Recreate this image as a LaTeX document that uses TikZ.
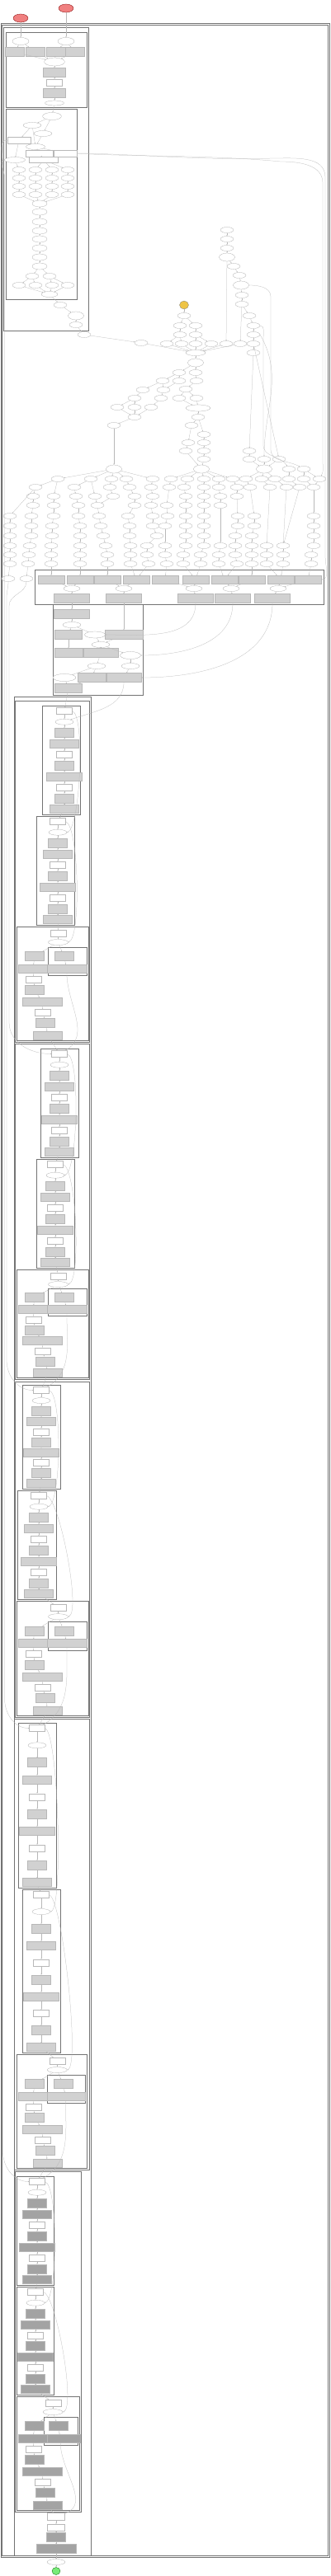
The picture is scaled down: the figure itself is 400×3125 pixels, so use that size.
\documentclass[tikz,border=0pt]{standalone}
\usetikzlibrary{shapes.geometric,arrows.meta}
\definecolor{lred}{RGB}{240,128,128}
\definecolor{lgreen}{RGB}{120,235,120}
\definecolor{lyel}{RGB}{238,196,70}
\def\gfill{black!18}
\newcommand{\chain}[1]{%
  \global\let\chprev\empty
  \foreach \cc in {#1}{%
    \ifx\chprev\empty\else\draw[ed] (\chprev) -- (\cc);\fi
    \global\let\chprev\cc
  }%
}
\newcommand{\NarrowBox}[6]{%
  \draw[cl] (#2,#3) rectangle (#4,#5);
  \pgfmathsetmacro{\nbs}{(#5-#3-13)/9}%
  \node[wb] (#1-1) at (#6,{#3+6.5}) {};
  \node[el,minimum width=22pt] (#1-2) at (#6,{#3+6.5+\nbs}) {};
  \node[gs] (#1-3) at (#6,{#3+6.5+2*\nbs}) {};
  \node[gw] (#1-4) at (#6,{#3+6.5+3*\nbs}) {};
  \node[wb] (#1-5) at (#6,{#3+6.5+4*\nbs}) {};
  \node[gs] (#1-6) at (#6,{#3+6.5+5*\nbs}) {};
  \node[gw,minimum width=43pt] (#1-7) at (#6,{#3+6.5+6*\nbs}) {};
  \node[wb] (#1-8) at (#6,{#3+6.5+7*\nbs}) {};
  \node[gs] (#1-9) at (#6,{#3+6.5+8*\nbs}) {};
  \node[gw] (#1-10) at (#6,{#3+6.5+9*\nbs}) {};
  \chain{#1-1,#1-2,#1-3,#1-4,#1-5,#1-6,#1-7,#1-8,#1-9,#1-10}
}
\newcommand{\WideBox}[5]{%
  \pgfmathsetmacro{\wW}{#4-#2}\pgfmathsetmacro{\wH}{#5-#3}%
  \draw[cl] (#2,#3) rectangle (#4,#5);
  \draw[cl] ({#2+0.44*\wW},{#3+0.18*\wH}) rectangle ({#4-2},{#3+0.43*\wH});
  \node[wb] (#1-1) at ({#2+0.58*\wW},{#3+0.058*\wH}) {};
  \node[el,minimum width=24pt] (#1-2) at ({#2+0.58*\wW},{#3+0.138*\wH}) {};
  \node[gs] (#1-s1) at ({#2+0.66*\wW},{#3+0.26*\wH}) {};
  \node[gw,minimum width=48pt] (#1-s2) at ({#2+0.70*\wW},{#3+0.37*\wH}) {};
  \node[gs] (#1-3) at ({#2+22},{#3+0.26*\wH}) {};
  \node[gw] (#1-4) at ({#2+20},{#3+0.37*\wH}) {};
  \node[wb] (#1-5) at ({#2+21},{#3+0.464*\wH}) {};
  \node[gs] (#1-6) at ({#2+22},{#3+0.558*\wH}) {};
  \node[gw,minimum width=48pt] (#1-7) at ({#2+31},{#3+0.66*\wH}) {};
  \node[wb] (#1-8) at ({#2+32},{#3+0.754*\wH}) {};
  \node[gs] (#1-9) at ({#2+35},{#3+0.848*\wH}) {};
  \node[gw] (#1-10) at ({#2+38},{#3+0.957*\wH}) {};
  \chain{#1-1,#1-2,#1-3,#1-4,#1-5,#1-6,#1-7,#1-8,#1-9,#1-10}
  \draw[ed] (#1-2) -- (#1-s1);
  \draw[ed] (#1-s1) -- (#1-s2);
}
\begin{document}
\begin{tikzpicture}[x=1pt,y=-1pt,
  el/.style={ellipse,draw=black!40,line width=0.2pt,fill=white,inner sep=0pt,minimum width=16pt,minimum height=7pt},
  elb/.style={el,minimum width=19pt,minimum height=10pt},
  wb/.style={rectangle,draw=black!28,line width=0.15pt,fill=white,inner sep=0pt,minimum width=19pt,minimum height=8pt},
  gbase/.style={rectangle,draw=black!28,line width=0.2pt,fill=\gfill,inner sep=0pt},
  gs/.style={gbase,minimum width=23pt,minimum height=11pt},
  gw/.style={gbase,minimum width=35pt,minimum height=10pt},
  cl/.style={draw=black!55,line width=0.55pt},
  ed/.style={draw=black!28,line width=0.25pt,-{Stealth[length=1.5pt,width=1.2pt]}},
  redn/.style={ellipse,draw=red!50!black,line width=0.3pt,fill=lred,minimum width=18pt,minimum height=10pt,inner sep=0pt}
]
\useasboundingbox (0,0) rectangle (400,3125);
\fill[white] (0,0) rectangle (400,3125);

% outer clusters
\draw[cl] (1,28) rectangle (399,3102);
\draw[cl] (2.5,30) rectangle (397.5,3100);
\draw[cl] (4,33) rectangle (107,401);
\draw[cl] (7,39) rectangle (105,130);
\draw[cl] (7,132) rectangle (93,363);
\draw[cl] (42,691) rectangle (392,733);
\draw[cl] (64,733) rectangle (173,843);
\draw[cl] (17,845) rectangle (110,3100);

% inputs
\node[redn] (rd1) at (80,10) {};
\node[redn] (rd2) at (25,22) {};

% cluster C1a
\node[el,minimum width=20pt,minimum height=9pt] (te1) at (25,50) {};
\node[el,minimum width=20pt,minimum height=9pt] (te2) at (80,50) {};
\foreach \n/\x in {tg1/18,tg2/43,tg3/68,tg4/91} \node[gs] (\n) at (\x,63) {};
\node[elb,minimum width=25pt] (te3) at (66,75) {};
\node[gs,minimum width=27pt] (tg5) at (66,88) {};
\node[wb] (tw1) at (66,100) {};
\node[gs,minimum width=27pt] (tg6) at (66,113) {};
\node[el,minimum width=23pt,minimum height=6pt] (te4) at (66,125) {};
\foreach \a/\b in {rd2/te1,rd1/te2,te1/tg1,te1/tg2,te2/tg3,te2/tg4,tg1/te3,tg2/te3,tg3/te3,tg4/te3}{\draw[ed] (\a) -- (\b);}
\chain{te3,tg5,tw1,tg6,te4}

% cluster C1b
\node[el,minimum width=23pt,minimum height=9pt] (tf1) at (63,141) {};
\node[el,minimum width=22pt] (tf2) at (39,152) {};
\node[el,minimum width=22pt] (tf3) at (52,162) {};
\node[wb,minimum width=28pt] (tf4) at (23,170) {};
\node[el,minimum width=23pt] (tf5) at (43,178) {};
\node[wb,minimum width=33pt] (tf6) at (48,186) {};
\node[wb,minimum width=28pt] (tf7) at (79,186) {};
\node[el,minimum width=25pt] (tf8) at (18,194) {};
\node[wb,minimum width=35pt,minimum height=7pt] (tf9) at (53,194) {};
\foreach \c/\x in {1/23,2/43,3/63,4/82}{
  \foreach \r/\y in {1/206,2/216,3/226,4/236}{
    \node[el] (th\c\r) at (\x,\y) {};
  }
}
\foreach \n/\y in {ti1/247,ti2/257,ti3/269,ti4/280,ti5/290,ti6/301,ti7/312,ti8/323} \node[el,minimum width=18pt,minimum height=8pt] (\n) at (48,\y) {};
\node[el] (tj1) at (39,335) {};
\node[el] (tj2) at (60,335) {};
\foreach \n/\x in {tk1/23,tk2/43,tk3/63,tk4/82} \node[el] (\n) at (\x,346) {};
\node[el,minimum width=20pt] (tm1) at (60,357) {};
\node[el] (to1) at (73,370) {};
\node[elb] (to2) at (92,383) {};
\node[el] (to3) at (92,394) {};
\node[el] (to4) at (102,406) {};
\foreach \a/\b in {te4/tf1,tf1/tf2,tf1/tf3,tf2/tf4,tf2/tf5,tf3/tf5,tf5/tf6,tf5/tf7,tf4/tf8,tf6/tf9,tf8/th11,tf9/th21,tf9/th31,tf9/th41,th14/ti1,th24/ti1,th34/ti1,th44/ti1,ti8/tj1,ti8/tj2,tj1/tk1,tj1/tk2,tj2/tk3,tj2/tk4,tk1/tm1,tk2/tm1,tk3/tm1,tk4/tm1}{\draw[ed] (\a) -- (\b);}
\chain{th11,th12,th13,th14}
\chain{th21,th22,th23,th24}
\chain{th31,th32,th33,th34}
\chain{th41,th42,th43,th44}
\chain{ti1,ti2,ti3,ti4,ti5,ti6,ti7,ti8}
\chain{tm1,to1,to2,to3,to4}

% middle graph, upper part
\foreach \n/\x/\y in {r1/275/279,r2/275/290,r3/275/301,r5/283/323,r6/290/334,r8/293/358,r9/293/369,r10/302/383,r11/307/395,r12/307/406,r13/307/417,r14/307/428,
  a1/223/383,a2/218/395,a3/237/395,a4/218/406,a5/237/406,
  b0/171/416,b1/202/417,b2/220/417,b3/237/417,b4/256/417,b5/274/417,b6/291/417,
  c3/217/452,c4/237/452,d1/197/462,d2/217/462,d3/238/462,
  e1/173/473,e2/198/473,e3/225/472,e4/163/483,e5/195/483,e6/217/483,e7/238/483,
  u1/142/494,u2/163/494,u3/183/494,i1/163/506,i2/240/506,j1/138/516,j2/232/516,j3/247/527,
  k1/228/537,k2/247/537,k3/225/547,k4/247/547,k5/302/547,k6/247/557,k7/302/557,k8/320/557,k9/338/557,
  m4/350/569,m5/368/569}
  \node[el] (\n) at (\x,\y) {};
\foreach \n/\x/\y in {r4/275/312,r7/292/346,c2/237/440,m1/138/569,m2/244/569,m3/320/569}
  \node[elb] (\n) at (\x,\y) {};
\node[el,minimum width=24pt] (c1) at (237,428) {};
\node[el,minimum width=30pt,minimum height=8pt] (u4) at (240,495) {};
\node[ellipse,draw=black!50,line width=0.3pt,fill=lyel,minimum width=11pt,minimum height=10pt,inner sep=0pt] (y0) at (223,370) {};

\chain{r1,r2,r3,r4,r5,r6,r7,r8,r9,r10,r11,r12,r13,r14}
\foreach \a/\b in {y0/a1,a1/a2,a1/a3,a2/a4,a3/a5,a4/b1,a4/b2,a5/b3,a5/b4,r4/b5,r9/b6,to4/b0,
  b0/c1,b1/c1,b2/c1,b3/c1,b4/c1,b5/c1,b6/c1,c1/c2,c2/c3,c2/c4,c3/d1,c3/d2,c4/d3,
  d1/e1,d1/e2,d2/e2,d3/e3,e1/e4,e2/e5,e3/e6,e3/e7,e4/u1,e4/u2,e5/u3,e6/u4,e7/u4,
  u1/i1,u2/i1,u3/i1,i1/j1,j1/m1,u4/i2,i2/j2,i2/j3,j2/k1,j3/k2,k1/k3,k2/k4,k4/k6,k3/m2,k6/m2,
  k5/k7,k7/m3,k8/m3,k9/m3,r14/k5,r13/k9}{\draw[ed] (\a) -- (\b);}
\draw[ed] (r12.east) to[out=-60,in=90] (k8);
\draw[ed] (r11.east) to[out=0,in=90] (319,410) -- (319,540) to[out=-90,in=120] (m4);
\draw[ed] (r7.east) to[out=0,in=90] (328,360) -- (328,545) to[out=-90,in=150] (m5);

% middle graph, lower part
\foreach \n/\x/\y in {
 qa1/153/581,qb1/185/581,qc1/207/581,qd1/227/581,qe1/247/581,qf1/265/581,qg1/282/581,qh1/298/581,qi1/317/581,qj1/333/581,qk1/350/581,ql1/368/581,qm1/387/581,z21/70/581,z41/110/581,z51/135/581,
 qa2/157/591,qb2/183/591,qc2/205/591,qd2/223/591,qe2/247/591,qf2/265/591,qg2/287/591,qh2/303/591,qi2/327/591,qj2/347/591,qk2/363/591,qm2/380/591,z12/43/591,z32/90/591,z52/133/591,
 qa3/163/602,qb3/185/602,qd3/225/602,qe3/247/602,qf3/267/602,qg3/287/602,z13/40/602,z23/65/602,z33/92/602,z43/115/602,z53/137/602,
 qa4/163/613,qb4/183/613,qc4/202/613,qd4/225/613,qe4/247/613,qf4/267/613,z14/40/613,z24/65/613,z34/95/613,z44/118/613,
 qa5/155/626,qb5/185/626,qc5/203/626,qd5/225/626,qe5/247/626,qg5/288/626,qh5/308/626,qm5/380/626,z05/12/626,z15/38/626,z25/65/626,z35/95/626,z45/120/626,
 qa6/157/638,qb6/185/638,qc6/200/638,qd6/225/638,qe6/247/638,qg6/288/638,qh6/308/638,qm6/380/638,z06/12/638,z16/38/638,z26/63/638,z36/97/638,z46/122/638,
 qa7/157/650,qb7/190/650,qd7/225/650,qe7/247/650,qg7/285/650,qh7/305/650,qm7/380/650,z07/12/650,z17/38/650,z27/63/650,z37/97/650,z47/125/650,
 qa8/158/662,qb8/178/662,qc8/200/662,qd8/225/662,qe8/247/662,qf8/267/662,qg8/285/662,qh8/305/662,qi8/323/662,qj8/343/662,qm8/380/662,z08/12/662,z18/36/662,z28/62/662,z38/97/662,z48/128/662,
 qa9/158/673,qb9/178/673,qc9/200/673,qd9/222/673,qe9/243/673,qf9/265/673,qg9/285/673,qh9/305/673,qi9/323/673,qj9/343/673,qm9/377/673,z09/12/673,z19/35/673,z29/62/673,z39/97/673,z49/130/673,
 qa10/158/684,qb10/180/684,qc10/202/684,qd10/222/684,qe10/243/684,qf10/265/684,qg10/287/684,qh10/305/684,qi10/323/684,qj10/343/684,qm10/377/684,z010/12/684,z110/34/684,z210/62/684,z310/97/684,z410/130/684,
 z011/10/702,z111/32/702}
 \node[el] (\n) at (\x,\y) {};

\chain{qa1,qa2,qa3,qa4,qa5,qa6,qa7,qa8,qa9,qa10}
\chain{qb1,qb2,qb3,qb4,qb5,qb6,qb7,qb8,qb9,qb10}
\chain{qc1,qc2,qc4,qc5,qc6,qc8,qc9,qc10}
\chain{qd1,qd2,qd3,qd4,qd5,qd6,qd7,qd8,qd9,qd10}
\chain{qe1,qe2,qe3,qe4,qe5,qe6,qe7,qe8,qe9,qe10}
\chain{qf1,qf2,qf3,qf4,qf8,qf9,qf10}
\chain{qg1,qg2,qg3,qg5,qg6,qg7,qg8,qg9,qg10}
\chain{qh1,qh2,qh5,qh6,qh7,qh8,qh9,qh10}
\chain{qi1,qi2,qi8,qi9,qi10}
\chain{qj1,qj2,qj8,qj9,qj10}
\chain{qm1,qm2,qm5,qm6,qm7,qm8,qm9,qm10}
\chain{z05,z06,z07,z08,z09,z010,z011}
\chain{z12,z13,z14,z15,z16,z17,z18,z19,z110,z111}
\chain{z21,z23,z24,z25,z26,z27,z28,z29,z210}
\chain{z32,z33,z34,z35,z36,z37,z38,z39,z310}
\chain{z41,z43,z44,z45,z46,z47,z48,z49,z410}
\chain{z51,z52,z53}
\foreach \a/\b in {m1/z21,m1/z41,m1/z51,m1/qa1,m1/qb1,z21/z12,z41/z32,z12/z05,z53/z44,
  m2/qc1,m2/qd1,m2/qe1,m2/qf1,m2/qg1,m3/qh1,m3/qi1,m3/qj1,m4/qk1,m5/ql1,m5/qm1,
  qk1/qk2,qk2/qj8,ql1/qm2}{\draw[ed] (\a) -- (\b);}

% cluster M
\foreach \n/\x in {gt1/62,gt2/97,gt3/130,gt4/165,gt5/200,gt6/237,gt7/272,gt8/305,gt9/340,gt10/373}
  \node[gw,minimum width=32pt] (\n) at (\x,703) {};
\foreach \n/\x in {gm1/87,gm2/150,gm3/235,gm4/280,gm5/337}
  \node[el,minimum width=20pt] (\n) at (\x,714) {};
\foreach \n/\x in {gb1/87,gb2/150,gb3/237,gb4/282,gb5/330}
  \node[gs,minimum width=43pt] (\n) at (\x,726) {};
\foreach \a/\b in {z210/gt1,z310/gt2,z410/gt3,qa10/gt4,qb10/gt4,qc10/gt5,qd10/gt6,qe10/gt6,qf10/gt7,qg10/gt7,qh10/gt8,qi10/gt9,qj10/gt9,qm10/gt10,
  gt1/gm1,gt2/gm1,gt3/gm2,gt4/gm2,gt5/gm3,gt6/gm3,gt7/gm4,gt8/gm4,gt9/gm5,gt10/gm5,
  gm1/gb1,gm2/gb2,gm3/gb3,gm4/gb4,gm5/gb5}{\draw[ed] (\a) -- (\b);}
\draw[ed] (tf7.east) .. controls (150,186) and (250,195) .. (330,192) to[out=0,in=90] (394,215) -- (394,675) to[out=-90,in=0] (gt10.east);
\draw[ed] (tf7.east) .. controls (150,190) and (260,188) .. (340,196) to[out=0,in=90] (391,222) -- (391,560) to[out=-90,in=60] (qm1);

% cluster N
\node[gs,minimum width=43pt] (n1) at (87,745) {};
\node[el,minimum width=22pt] (n2) at (87,758) {};
\node[gs,minimum width=33pt] (n3) at (83,770) {};
\node[el,minimum width=25pt,minimum height=8pt] (n4) at (115,770) {};
\node[gs,minimum width=46pt] (n5) at (150,770) {};
\node[el,minimum width=22pt] (n6) at (122,782) {};
\node[gs,minimum width=34pt] (n7) at (83,792) {};
\node[gs,minimum width=42pt] (n8) at (122,792) {};
\node[el,minimum width=25pt,minimum height=9pt] (n9) at (158,795) {};
\node[el,minimum width=22pt] (n10) at (117,808) {};
\node[el,minimum width=22pt] (n11) at (158,808) {};
\node[el,minimum width=28pt,minimum height=9pt] (n12) at (78,822) {};
\node[gs,minimum width=34pt] (n13) at (111,822) {};
\node[gs,minimum width=42pt] (n14) at (150,822) {};
\node[gs,minimum width=33pt] (n15) at (83,835) {};
\foreach \a/\b in {gb1/n1,n1/n2,n2/n3,n2/n4,gb2/n5,n4/n6,n5/n6,n3/n7,n6/n8,n6/n9,n8/n10,n9/n11,n10/n12,n10/n13,n11/n14,n12/n15,n13/n15}{\draw[ed] (\a) -- (\b);}
\draw[ed] (gb3) to[out=-90,in=0] (n4);
\draw[ed] (gb4) to[out=-90,in=0] (n9);
\draw[ed] (gb5) to[out=-90,in=0] (n14);

% layers
\draw[cl] (18,850) rectangle (108,1264);
\NarrowBox{L1a}{51}{856}{97}{988}{78}
\NarrowBox{L1b}{44}{990}{90}{1122}{70}
\WideBox{L1w}{20}{1124}{107}{1262}

\draw[cl] (18,1266) rectangle (108,1673);
\NarrowBox{L2a}{49}{1272}{95}{1404}{72}
\NarrowBox{L2b}{44}{1406}{90}{1538}{67}
\WideBox{L2w}{20}{1540}{107}{1671}

\draw[cl] (18,1676) rectangle (108,2083);
\NarrowBox{L3a}{27}{1680}{73}{1806}{50}
\NarrowBox{L3b}{21}{1808}{68}{1940}{47}
\WideBox{L3w}{20}{1942}{107}{2081}

\draw[cl] (17,2085) rectangle (108,2632);
\NarrowBox{L4a}{22}{2090}{68}{2290}{45}
\NarrowBox{L4b}{27}{2292}{73}{2490}{50}
\WideBox{L4w}{20}{2492}{105}{2630}

\def\gfill{black!36}
\draw[cl] (18,2634) rectangle (98,3047);
\NarrowBox{L5a}{20}{2640}{65}{2772}{45}
\NarrowBox{L5b}{20}{2774}{65}{2905}{43}
\WideBox{L5w}{20}{2907}{96}{3045}

\foreach \a/\b in {n15/L1a-1,
  L1a-10/L1b-1,L1b-10/L1w-1,L1w-10/L2a-1,
  L2a-10/L2b-1,L2b-10/L2w-1,L2w-10/L3a-1,
  L3a-10/L3b-1,L3b-10/L3w-1,L3w-10/L4a-1,
  L4a-10/L4b-1,L4b-10/L4w-1,L4w-10/L5a-1,
  L5a-10/L5b-1,L5b-10/L5w-1}{\draw[ed] (\a) -- (\b);}
\foreach \a/\b in {L1w/L2a,L2w/L3a,L3w/L4a,L4w/L5a}{\draw[ed] (\a-s2) to[out=-90,in=30] (\b-1);}
\foreach \a/\b in {L1a/L1b,L1b/L1w,L2a/L2b,L2b/L2w,L3a/L3b,L3b/L3w,L4a/L4b,L4b/L4w,L5a/L5b,L5b/L5w}{%
  \draw[ed] (\a-1.east) .. controls +(16,5) and +(16,-5) .. (\b-2.east);}
\draw[ed] (n14) to[out=-90,in=20] (L1a-2);

% long left edges
\draw[ed] (tf4.west) to[out=180,in=90] (3.5,200) -- (3.5,2610) to[out=-90,in=180] (L5a-1.west);
\draw[ed] (tf8.west) to[out=180,in=90] (5.5,215) -- (5.5,2060) to[out=-90,in=180] (L4a-1.west);
\draw[ed] (z011) to[out=-90,in=90] (8,725) -- (8,1650) to[out=-90,in=180] (L3a-1.west);
\draw[ed] (z111) to[out=-90,in=90] (11,735) -- (11,1240) to[out=-90,in=180] (L2a-1.west);

% final
\node[wb,minimum width=21pt,minimum height=9pt] (fz1) at (68,3053) {};
\node[wb,minimum width=21pt] (fz2) at (68,3066) {};
\node[gs] (fz3) at (68,3078) {};
\node[gw,minimum width=48pt,minimum height=11pt] (fz4) at (68,3092) {};
\node[el,minimum width=22pt] (fz5) at (68,3108) {};
\node[ellipse,draw=green!40!black,line width=0.3pt,fill=lgreen,minimum width=10pt,minimum height=9pt,inner sep=0pt] (out) at (68,3119) {};
\draw[ed] (L5w-10) -- (fz1);
\draw[ed] (L5w-s2) to[out=-90,in=20] (fz1);
\chain{fz1,fz2,fz3,fz4,fz5,out}
\end{tikzpicture}
\end{document}
